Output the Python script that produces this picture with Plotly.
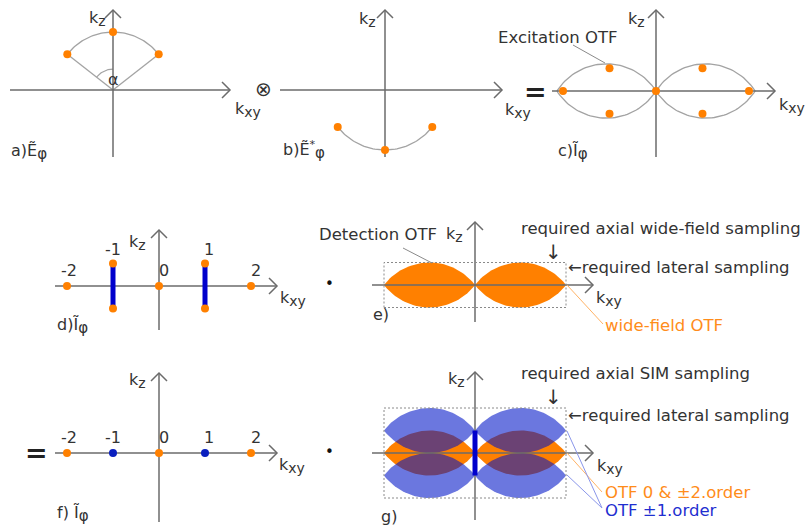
import numpy as np
import plotly.graph_objects as go

W, H = 809, 531
ORANGE = '#FF8000'
BLUE = '#0000CC'
BLUE_DOT = '#0a1fbf'
BLUE_FILL = 'rgba(0,20,200,0.58)'
GRAY_AX = '#6b6b6b'
GRAY_ARC = '#a3a3a3'
TXT = '#333333'
FONT = 'DejaVu Sans'

# ---------------- data (k-space units) ----------------
alpha_deg = 52                                  # half aperture angle of the emission cap
cap_angles = [-alpha_deg, 0, alpha_deg]         # plane-wave directions in a) / b)
# c) excitation OTF: frequency components (kx, kz)
exc_kx = [-1.576, -0.788, -0.788, 0.0, 0.788, 0.788, 1.576]
exc_kz = [0.0, 0.384, -0.384, 0.0, 0.384, -0.384, 0.0]
exc_lobe_centers = [-0.84, 0.84]
exc_lobe_halfwidth = 0.84
exc_lobe_halfheight = 0.46
# d) / f) illumination orders
orders = [-2, -1, 0, 1, 2]
order_labels = ['-2', '-1', '0', '1', '2']
first_orders = [-1, 1]
first_order_kz = [-1, 1]
# e) / g) OTF copies
wf_lobe_centers = [-1, 1]
wf_lobe_halfwidth = 1.0
wf_lobe_halfheight = 1.0
sim_shift_kz = [-1, 1]
wf_support = dict(kx=[-2, 2], kz=[-1, 1])
sim_support = dict(kx=[-2, 2], kz=[-2, 2])

# ---------------- panel layout (pixels) ----------------
PANELS = {
    'a': dict(n=1, ox=113, oy=90, sx=58, sy=58, box=(0, 0, 262, 178), ax=(10, 230, 10, 157)),
    'b': dict(n=2, ox=385, oy=90, sx=60, sy=60, box=(262, 0, 532, 178), ax=(280, 502, 10, 157)),
    'c': dict(n=3, ox=656, oy=91, sx=59, sy=59, box=(540, 0, 809, 178), ax=(552, 775, 10, 157)),
    'd': dict(n=4, ox=159, oy=286, sx=46, sy=22.5, box=(0, 185, 312, 340), ax=(55, 277, 230, 330)),
    'e': dict(n=5, ox=475, oy=285, sx=45.5, sy=22.5, box=(312, 185, 809, 340), ax=(372, 593, 222, 322)),
    'f': dict(n=6, ox=159, oy=453, sx=46, sy=22.5, box=(0, 340, 312, 531), ax=(55, 277, 373, 522)),
    'g': dict(n=7, ox=475, oy=453, sx=45.5, sy=22.5, box=(312, 340, 809, 531), ax=(372, 593, 372, 520)),
}

fig = go.Figure()
layout_axes = {}
for key, p in PANELS.items():
    n = p['n']
    l, t, r, b = p['box']
    sfx = '' if n == 1 else str(n)
    layout_axes['xaxis' + sfx] = dict(domain=[l / W, r / W], range=[(l - p['ox']) / p['sx'], (r - p['ox']) / p['sx']],
                                      visible=False, fixedrange=True, anchor='y' + sfx)
    layout_axes['yaxis' + sfx] = dict(domain=[1 - b / H, 1 - t / H], range=[(p['oy'] - b) / p['sy'], (p['oy'] - t) / p['sy']],
                                      visible=False, fixedrange=True, anchor='x' + sfx)


def px2d(key, px, py):
    p = PANELS[key]
    return (px - p['ox']) / p['sx'], (p['oy'] - py) / p['sy']


def tr(key, **kw):
    n = PANELS[key]['n']
    sfx = '' if n == 1 else str(n)
    kw.setdefault('hoverinfo', 'skip')
    fig.add_trace(go.Scatter(xaxis='x' + sfx, yaxis='y' + sfx, showlegend=False, **kw))


def lens(key, cx, cz, hw, hh, npts=48):
    p = PANELS[key]
    a = hw * p['sx']
    b = hh * p['sy']
    r = (a * a + b * b) / (2 * b)
    th = np.arcsin(a / r)
    t = np.linspace(-th, th, npts)
    xu = r * np.sin(t)
    zu = (b - r) + r * np.cos(t)
    x = np.concatenate([xu, xu[::-1]])
    z = np.concatenate([zu, -zu[::-1]])
    return list(cx + x / p['sx']), list(cz + z / p['sy'])


def draw_axes(key):
    p = PANELS[key]
    xl, xr, yt, yb = p['ax']
    ox, oy = p['ox'], p['oy']
    line = dict(color=GRAY_AX, width=1.5)
    pts = [((xl, oy), (xr, oy)), ((ox, yb), (ox, yt)),
           ((xr - 8, oy - 8), (xr, oy), (xr - 8, oy + 8)),
           ((ox - 8, yt + 8), (ox, yt), (ox + 8, yt + 8))]
    for seg in pts:
        xs, ys = zip(*[px2d(key, a, b) for a, b in seg])
        tr(key, x=list(xs), y=list(ys), mode='lines', line=line)


def dots(key, x, y, color=ORANGE, size=8):
    tr(key, x=x, y=y, mode='markers', marker=dict(color=color, size=size, line=dict(width=0)))


rad = np.radians
# ---------- a) ----------
th = np.linspace(rad(-alpha_deg), rad(alpha_deg), 60)
tr('a', x=list(np.sin(th)), y=list(np.cos(th)), mode='lines', line=dict(color=GRAY_ARC, width=1.3))
for s in (-1, 1):
    tr('a', x=[0, s * np.sin(rad(alpha_deg))], y=[0, np.cos(rad(alpha_deg))], mode='lines',
       line=dict(color=GRAY_ARC, width=1.3))
ths = np.linspace(rad(-alpha_deg), 0, 20)
tr('a', x=list(0.36 * np.sin(ths)), y=list(0.36 * np.cos(ths)), mode='lines', line=dict(color=GRAY_ARC, width=1.2))
draw_axes('a')
dots('a', [np.sin(rad(a)) for a in cap_angles], [np.cos(rad(a)) for a in cap_angles])

# ---------- b) ----------
tr('b', x=list(np.sin(th)), y=list(-np.cos(th)), mode='lines', line=dict(color=GRAY_ARC, width=1.3))
draw_axes('b')
dots('b', [np.sin(rad(a)) for a in cap_angles], [-np.cos(rad(a)) for a in cap_angles])

# ---------- c) ----------
for cx in exc_lobe_centers:
    lx, lz = lens('c', cx, 0, exc_lobe_halfwidth, exc_lobe_halfheight)
    tr('c', x=lx, y=lz, mode='lines', line=dict(color=GRAY_ARC, width=1.3))
draw_axes('c')
dots('c', exc_kx, exc_kz)

# ---------- d) ----------
draw_axes('d')
for kx in first_orders:
    tr('d', x=[kx, kx], y=first_order_kz, mode='lines', line=dict(color=BLUE, width=5))
dx, dz = [], []
for kx in orders:
    if kx in first_orders:
        dx += [kx, kx]
        dz += first_order_kz
    else:
        dx.append(kx)
        dz.append(0)
dots('d', dx, dz)

# ---------- e) ----------
for cx in wf_lobe_centers:
    lx, lz = lens('e', cx, 0, wf_lobe_halfwidth, wf_lobe_halfheight)
    tr('e', x=lx, y=lz, mode='lines', fill='toself', fillcolor=ORANGE, line=dict(width=0, color=ORANGE))
draw_axes('e')

# ---------- f) ----------
draw_axes('f')
dots('f', orders, [0] * len(orders),
     color=[BLUE_DOT if k in first_orders else ORANGE for k in orders])

# ---------- g) ----------
for cx in wf_lobe_centers:
    lx, lz = lens('g', cx, 0, wf_lobe_halfwidth, wf_lobe_halfheight)
    tr('g', x=lx, y=lz, mode='lines', fill='toself', fillcolor=ORANGE, line=dict(width=0, color=ORANGE))
for cz in sim_shift_kz:
    for cx in wf_lobe_centers:
        lx, lz = lens('g', cx, cz, wf_lobe_halfwidth, wf_lobe_halfheight)
        tr('g', x=lx, y=lz, mode='lines', fill='toself', fillcolor=BLUE_FILL, line=dict(width=0, color=BLUE_FILL))
draw_axes('g')
tr('g', x=[0, 0], y=sim_shift_kz, mode='lines', line=dict(color=BLUE, width=5))

# ---------- shapes: sampling boxes + leader lines ----------
shapes = []
for key, sup in (('e', wf_support), ('g', sim_support)):
    n = PANELS[key]['n']
    shapes.append(dict(type='rect', xref='x%d' % n, yref='y%d' % n, x0=sup['kx'][0], x1=sup['kx'][1],
                       y0=sup['kz'][0], y1=sup['kz'][1], line=dict(color='#8a8a8a', width=1, dash='2px,2px'),
                       layer='above'))


def leader(x0, y0, x1, y1, color='#8a8a8a', width=1):
    shapes.append(dict(type='line', xref='paper', yref='paper', x0=x0 / W, y0=1 - y0 / H, x1=x1 / W, y1=1 - y1 / H,
                       line=dict(color=color, width=width), layer='above'))


leader(573, 45, 605, 63)
leader(403, 248, 432, 263)
leader(567, 285, 603, 324, color='#FFB366')
leader(567, 453, 602, 492, color='#FFB366')
leader(567, 431, 602, 508, color='#8a96ea')
leader(567, 475, 602, 508, color='#8a96ea')

# ---------- text ----------
ann = []


def text(x, y, s, size=16, color=TXT, xanchor='left', family=FONT):
    ann.append(dict(x=x / W, y=1 - y / H, xref='paper', yref='paper', text=s, showarrow=False,
                    xanchor=xanchor, yanchor='middle', font=dict(family=family, size=size, color=color)))


def sub(s, size=14):
    return '<sub><span style="font-size:%dpx">%s</span></sub>' % (size, s)


KZ = 'k' + sub('z')
KXY = 'k' + sub('xy')
for x, y in [(108, 18), (378, 19), (647, 19), (148, 242), (465, 235), (148, 380), (467, 379)]:
    text(x, y, KZ, xanchor='right')
for x, y in [(233, 110), (503, 111), (777, 106), (278, 298), (594, 298), (277, 465), (595, 466)]:
    text(x, y, KXY)

PHI = sub('φ', 15)
text(9, 152, 'a)Ẽ' + PHI)
text(281, 150, 'b)Ẽ<sup>*</sup>' + PHI)
text(556, 152, 'c)Ĩ' + PHI)
text(55, 326, 'd)Ĩ' + PHI)
text(371, 314, 'e)')
text(55, 514, 'f) Ĩ' + PHI)
text(379, 516, 'g)')
text(106, 79, 'α')

text(263, 89, '⊗', size=20, xanchor='center')
text(535, 91, '<b>=</b>', size=27, color='#222', xanchor='center')
text(36, 452, '<b>=</b>', size=27, color='#222', xanchor='center')
text(329, 284, '•', size=15, color='#111', xanchor='center')
text(329, 452, '•', size=15, color='#111', xanchor='center')

LBL = 16.5
text(496, 37, 'Excitation OTF', size=LBL)
text(317, 235, 'Detection OTF', size=LBL)
text(519, 228, 'required axial wide-field sampling', size=LBL)
text(553, 252, '↓', size=20, xanchor='center')
text(566, 267, '←required lateral sampling', size=LBL)
text(603, 325, 'wide-field OTF', size=LBL, color='#FF8C1A')
text(519, 373, 'required axial SIM sampling', size=LBL)
text(553, 397, '↓', size=20, xanchor='center')
text(566, 415, '←required lateral sampling', size=LBL)
text(603, 492, 'OTF 0 &amp; ±2.order', size=LBL, color='#FF8C1A')
text(603, 510, 'OTF ±1.order', size=LBL, color='#1f2fd0')

# order numbers in d) and f)
xshift = [2, 0, 5, 4, 5]
for key, lift in (('d', True), ('f', False)):
    n = PANELS[key]['n']
    for k, lab, xs in zip(orders, order_labels, xshift):
        raised = lift and k in first_orders
        kz = first_order_kz[1] if raised else 0
        ann.append(dict(x=k, y=kz, xref='x%d' % n, yref='y%d' % n, text=lab, showarrow=False,
                        xanchor='center', yanchor='bottom', xshift=xs, yshift=3 if raised else 4,
                        font=dict(family=FONT, size=16, color=TXT)))

fig.update_layout(width=W, height=H, margin=dict(l=0, r=0, t=0, b=0), autosize=False,
                  paper_bgcolor='white', plot_bgcolor='rgba(0,0,0,0)',
                  shapes=shapes, annotations=ann, **layout_axes)
fig.write_html('out.html', config={'displayModeBar': False, 'staticPlot': True},
               post_script="document.body.style.margin='0px';")
